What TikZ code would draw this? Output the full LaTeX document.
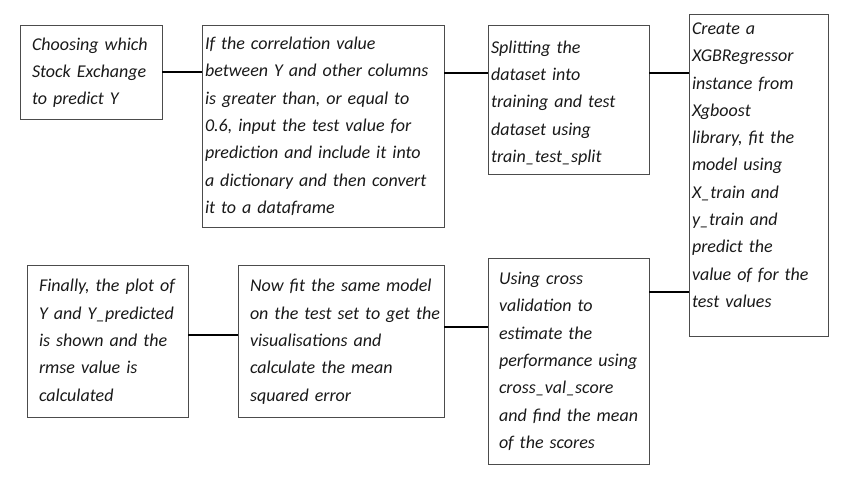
\documentclass[tikz,border=0pt]{standalone}
\usepackage{fontspec}
\setmainfont{Carlito}
\usetikzlibrary{positioning}

% lines of a box, kept as set (no re-wrapping)
\newcommand{\steplines}[1]{\begin{tabular}{@{}l@{}}#1\end{tabular}}

\begin{document}
\begin{tikzpicture}[
    x=1pt, y=1pt,
    node distance=0pt,
    outer sep=0pt,
    stage/.style={draw=black!70, line width=0.9pt, rectangle, align=left, anchor=north west,
        font={\fontsize{18pt}{27.3pt}\selectfont\itshape}, text=black!90, inner ysep=0pt},
    link/.style={line width=2.6pt, black}
]
    \useasboundingbox (0,0) rectangle (845,483);
    % top row
    \node [stage, text width=118pt, inner xsep=12pt, minimum height=94pt] (b1) at (20,458)
        {\steplines{Choosing which\\Stock Exchange\\to predict Y}};
    \node [stage, text width=236pt, inner xsep=3pt, minimum height=202pt, right=40pt of b1.north east, anchor=north west] (b2)
        {\steplines{If the correlation value\\between Y and other columns\\is greater than, or equal to\\0.6, input the test value for\\prediction and include it into\\a dictionary and then convert\\it to a dataframe}};
    \node [stage, text width=155pt, inner xsep=3pt, minimum height=149pt, right=44pt of b2.north east, anchor=north west] (b3)
        {\steplines{Splitting the\\dataset into\\training and test\\dataset using\\train\_test\_split\\[-6pt]}};
    \node [stage, text width=133pt, inner xsep=3pt, minimum height=322pt, right=40pt of b3.north east, anchor=north west, yshift=11pt] (b4)
        {\steplines{Create a\\XGBRegressor\\instance from\\Xgboost\\library, fit the\\model using\\X\_train and\\y\_train and\\predict the\\value of for the\\test values\\[19pt]}};
    % bottom row
    \node [stage, text width=137pt, inner xsep=12pt, minimum height=152pt] (b7) at (27,218)
        {\steplines{Finally, the plot of\\Y and Y\_predicted\\is shown and the\\rmse value is\\calculated}};
    \node [stage, text width=182pt, inner xsep=12pt, minimum height=152pt, right=50pt of b7.north east, anchor=north west] (b6)
        {\steplines{Now fit the same model\\on the test set to get the\\visualisations and\\calculate the mean\\squared error}};
    \node [stage, text width=139pt, inner xsep=11pt, minimum height=206pt, right=44pt of b6.north east, anchor=north west, yshift=7pt] (b5)
        {\steplines{Using cross\\validation to\\estimate the\\performance using\\cross\_val\_score\\and find the mean\\of the scores}};
    % connectors
    \coordinate (c23) at ([yshift=-48pt]b2.north east);
    \coordinate (c34) at ([yshift=-48pt]b3.north east);
    \coordinate (c45) at ([yshift=-34pt]b5.north east);
    \coordinate (c56) at ([yshift=-62pt]b6.north east);
    \coordinate (c67) at ([yshift=-70pt]b7.north east);
    \draw [link] (b1.east) -- (b1.east -| b2.west);
    \draw [link] (c23) -- (c23 -| b3.west);
    \draw [link] (c34) -- (c34 -| b4.west);
    \draw [link] (c45 -| b4.west) -- (c45);
    \draw [link] (c56) -- (c56 -| b5.west);
    \draw [link] (c67) -- (c67 -| b6.west);
\end{tikzpicture}
\end{document}
